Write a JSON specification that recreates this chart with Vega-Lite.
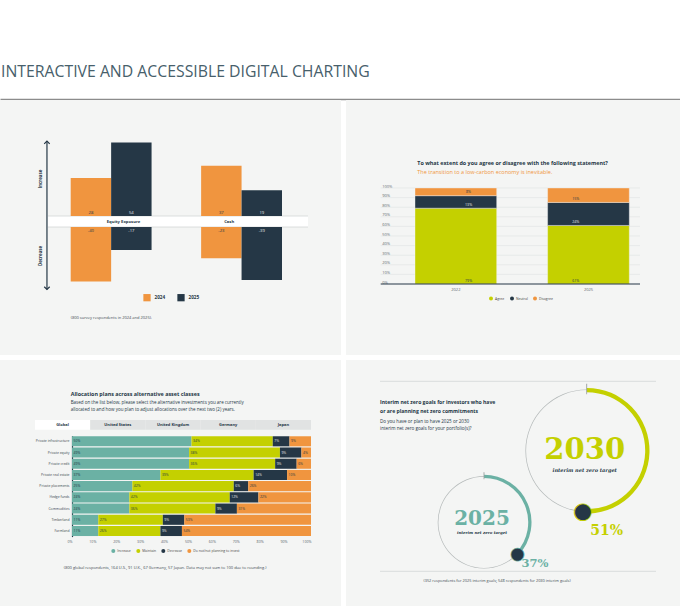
{
  "$schema": "https://vega.github.io/schema/vega-lite/v6.json",
  "background": "white",
  "padding": 0,
  "spacing": 1,
  "resolve": {"scale": {"color": "independent", "theta": "independent"}, "legend": {"color": "independent"}},
  "config": {
    "view": {"stroke": null},
    "font": "Open Sans",
    "axis": {"labelFont": "Open Sans", "titleFont": "Open Sans"},
    "legend": {"labelFont": "Open Sans"},
    "title": {"font": "Open Sans", "subtitleFont": "Open Sans"}
  },
  "vconcat": [
    {
      "width": 680,
      "height": 99,
      "data": {"values": [{"label": "INTERACTIVE AND ACCESSIBLE DIGITAL CHARTING"}]},
      "mark": {"type": "text", "align": "left", "baseline": "middle", "fontSize": 15.8, "color": "#47606b", "dx": 1},
      "encoding": {
        "x": {"datum": 0, "type": "quantitative", "scale": {"domain": [0, 1]}, "axis": {"orient": "bottom", "domain": true, "domainColor": "#8c8c8c", "domainWidth": 1.3, "ticks": false, "labels": false, "grid": false, "title": null}},
        "y": {"datum": 0.27, "type": "quantitative", "scale": {"domain": [0, 1]}, "axis": null},
        "text": {"field": "label"}
      }
    },
    {
      "resolve": {"scale": {"color": "independent", "theta": "independent"}, "legend": {"color": "independent"}},
      "vconcat": [
        {
          "resolve": {"scale": {"color": "independent"}, "legend": {"color": "independent"}},
          "hconcat": [
            {
              "width": 341,
              "height": 255,
              "view": {"fill": "#f4f5f4", "stroke": null},
              "data": {"values": [
                {"category": "Equity Exposure", "year": "2024", "increase": 28, "decrease": -40},
                {"category": "Equity Exposure", "year": "2025", "increase": 54, "decrease": -17},
                {"category": "Cash", "year": "2024", "increase": 37, "decrease": -23},
                {"category": "Cash", "year": "2025", "increase": 19, "decrease": -39}
              ]},
              "resolve": {"scale": {"x": "independent", "y": "independent"}},
              "layer": [
                {
                  "data": {"values": [{}]},
                  "mark": {"type": "rect", "fill": "white"},
                  "encoding": {
                    "x": {"datum": 0, "type": "quantitative", "scale": {"domain": [0, 1], "range": [48, 308]}, "axis": null},
                    "x2": {"datum": 1},
                    "y": {"datum": 0, "type": "quantitative", "scale": {"domain": [0, 60], "range": [116, 34.4]}, "axis": null},
                    "y2": {"datum": -8.1}
                  }
                },
                {
                  "data": {"values": [{}]},
                  "mark": {"type": "rule", "color": "#d3d7d7", "strokeWidth": 0.8},
                  "encoding": {
                    "x": {"datum": 0, "type": "quantitative", "scale": {"domain": [0, 1], "range": [48, 308]}, "axis": null},
                    "x2": {"datum": 1},
                    "y": {"datum": 0, "type": "quantitative", "scale": {"domain": [0, 60], "range": [116, 34.4]}, "axis": null}
                  }
                },
                {
                  "data": {"values": [{}]},
                  "mark": {"type": "rule", "color": "#d3d7d7", "strokeWidth": 0.8},
                  "encoding": {
                    "x": {"datum": 0, "type": "quantitative", "scale": {"domain": [0, 1], "range": [48, 308]}, "axis": null},
                    "x2": {"datum": 1},
                    "y": {"datum": -8.1, "type": "quantitative", "scale": {"domain": [0, 60], "range": [116, 34.4]}, "axis": null}
                  }
                },
                {
                  "data": {"values": [{}]},
                  "mark": {"type": "rule", "color": "#253746", "strokeWidth": 1.2},
                  "encoding": {
                    "x": {"datum": -0.004, "type": "quantitative", "scale": {"domain": [0, 1], "range": [48, 308]}, "axis": null},
                    "y": {"datum": 55, "type": "quantitative", "scale": {"domain": [0, 60], "range": [116, 34.4]}, "axis": null},
                    "y2": {"datum": -54}
                  }
                },
                {
                  "data": {"values": [{}]},
                  "mark": {"type": "point", "shape": "M-1,1L0,0L1,1", "filled": false, "stroke": "#253746", "strokeWidth": 1.2, "size": 30, "opacity": 1},
                  "encoding": {
                    "x": {"datum": -0.004, "type": "quantitative", "scale": {"domain": [0, 1], "range": [48, 308]}, "axis": null},
                    "y": {"datum": 55, "type": "quantitative", "scale": {"domain": [0, 60], "range": [116, 34.4]}, "axis": null}
                  }
                },
                {
                  "data": {"values": [{}]},
                  "mark": {"type": "point", "shape": "M-1,-1L0,0L1,-1", "filled": false, "stroke": "#253746", "strokeWidth": 1.2, "size": 30, "opacity": 1},
                  "encoding": {
                    "x": {"datum": -0.004, "type": "quantitative", "scale": {"domain": [0, 1], "range": [48, 308]}, "axis": null},
                    "y": {"datum": -54, "type": "quantitative", "scale": {"domain": [0, 60], "range": [116, 34.4]}, "axis": null}
                  }
                },
                {
                  "data": {"values": [{"label": "Increase"}]},
                  "mark": {"type": "text", "angle": 270, "fontSize": 4.4, "fontWeight": "bold", "color": "#253746", "align": "center", "baseline": "middle"},
                  "encoding": {
                    "x": {"datum": -0.027, "type": "quantitative", "scale": {"domain": [0, 1], "range": [48, 308]}, "axis": null},
                    "y": {"datum": 27.2, "type": "quantitative", "scale": {"domain": [0, 60], "range": [116, 34.4]}, "axis": null},
                    "text": {"field": "label"}
                  }
                },
                {
                  "data": {"values": [{"label": "Decrease"}]},
                  "mark": {"type": "text", "angle": 270, "fontSize": 4.4, "fontWeight": "bold", "color": "#253746", "align": "center", "baseline": "middle"},
                  "encoding": {
                    "x": {"datum": -0.027, "type": "quantitative", "scale": {"domain": [0, 1], "range": [48, 308]}, "axis": null},
                    "y": {"datum": -29.4, "type": "quantitative", "scale": {"domain": [0, 60], "range": [116, 34.4]}, "axis": null},
                    "text": {"field": "label"}
                  }
                },
                {
                  "mark": {"type": "bar"},
                  "encoding": {
                    "x": {"field": "category", "type": "nominal", "scale": {"domain": ["Equity Exposure", "Cash"], "range": [70.7, 282], "paddingInner": 0.38, "paddingOuter": 0}, "axis": null},
                    "xOffset": {"field": "year", "type": "nominal", "scale": {"domain": ["2024", "2025"], "paddingInner": 0, "paddingOuter": 0}},
                    "y": {"field": "increase", "type": "quantitative", "scale": {"domain": [0, 60], "range": [116, 34.4]}, "axis": null},
                    "color": {"field": "year", "type": "nominal", "scale": {"domain": ["2024", "2025"], "range": ["#f0953f", "#253746"]},
                      "legend": {"orient": "none", "legendX": 143, "legendY": 193.5, "direction": "horizontal", "title": null, "symbolType": "square", "symbolSize": 53, "symbolStrokeWidth": 0, "labelFontSize": 4.6, "labelFontWeight": "bold", "labelColor": "#253746", "labelOffset": 3.5, "columnPadding": 11, "padding": 0}}
                  }
                },
                {
                  "mark": {"type": "bar"},
                  "encoding": {
                    "x": {"field": "category", "type": "nominal", "scale": {"domain": ["Equity Exposure", "Cash"], "range": [70.7, 282], "paddingInner": 0.38, "paddingOuter": 0}, "axis": null},
                    "xOffset": {"field": "year", "type": "nominal", "scale": {"domain": ["2024", "2025"], "paddingInner": 0, "paddingOuter": 0}},
                    "y": {"field": "decrease", "type": "quantitative", "scale": {"domain": [-60, 0], "range": [208.6, 127]}, "axis": null},
                    "color": {"field": "year", "type": "nominal", "scale": {"domain": ["2024", "2025"], "range": ["#f0953f", "#253746"]},
                      "legend": {"orient": "none", "legendX": 143, "legendY": 193.5, "direction": "horizontal", "title": null, "symbolType": "square", "symbolSize": 53, "symbolStrokeWidth": 0, "labelFontSize": 4.6, "labelFontWeight": "bold", "labelColor": "#253746", "labelOffset": 3.5, "columnPadding": 11, "padding": 0}}
                  }
                },
                {
                  "mark": {"type": "text", "fontSize": 4.2, "baseline": "bottom", "dy": -1},
                  "encoding": {
                    "x": {"field": "category", "type": "nominal", "scale": {"domain": ["Equity Exposure", "Cash"], "range": [70.7, 282], "paddingInner": 0.38, "paddingOuter": 0}, "axis": null},
                    "xOffset": {"field": "year", "type": "nominal", "scale": {"domain": ["2024", "2025"], "paddingInner": 0, "paddingOuter": 0}},
                    "y": {"datum": 0, "type": "quantitative", "scale": {"domain": [0, 60], "range": [116, 34.4]}, "axis": null},
                    "text": {"field": "increase", "type": "nominal"},
                    "color": {"condition": {"test": "datum.year === '2025'", "value": "#e6e9ea"}, "value": "#253746"}
                  }
                },
                {
                  "mark": {"type": "text", "fontSize": 4.2, "baseline": "top", "dy": 1.5},
                  "encoding": {
                    "x": {"field": "category", "type": "nominal", "scale": {"domain": ["Equity Exposure", "Cash"], "range": [70.7, 282], "paddingInner": 0.38, "paddingOuter": 0}, "axis": null},
                    "xOffset": {"field": "year", "type": "nominal", "scale": {"domain": ["2024", "2025"], "paddingInner": 0, "paddingOuter": 0}},
                    "y": {"datum": 0, "type": "quantitative", "scale": {"domain": [-60, 0], "range": [208.6, 127]}, "axis": null},
                    "text": {"field": "decrease", "type": "nominal"},
                    "color": {"condition": {"test": "datum.year === '2025'", "value": "#e6e9ea"}, "value": "#253746"}
                  }
                },
                {
                  "transform": [{"filter": "datum.year === '2024'"}],
                  "mark": {"type": "text", "fontSize": 4.2, "fontWeight": "bold", "color": "#253746", "baseline": "middle"},
                  "encoding": {
                    "x": {"field": "category", "type": "nominal", "scale": {"domain": ["Equity Exposure", "Cash"], "range": [70.7, 282], "paddingInner": 0.38, "paddingOuter": 0}, "axis": null},
                    "y": {"datum": -4.05, "type": "quantitative", "scale": {"domain": [0, 60], "range": [116, 34.4]}, "axis": null},
                    "text": {"field": "category"}
                  }
                },
                {
                  "data": {"values": [{"note": "(800 survey respondents in 2024 and 2025)."}]},
                  "mark": {"type": "text", "fontSize": 4, "color": "#3d4a52", "align": "left", "baseline": "middle"},
                  "encoding": {
                    "x": {"datum": 0.0873, "type": "quantitative", "scale": {"domain": [0, 1], "range": [48, 308]}, "axis": null},
                    "y": {"datum": -75, "type": "quantitative", "scale": {"domain": [0, 60], "range": [116, 34.4]}, "axis": null},
                    "text": {"field": "note"}
                  }
                }
              ]
            },
            {
              "width": 334,
              "height": 255,
              "view": {"fill": "#f4f5f4", "stroke": null},
              "title": {"text": "To what extent do you agree or disagree with the following statement?", "subtitle": "The transition to a low-carbon economy is inevitable.", "anchor": "start", "frame": "group", "orient": "top", "offset": -75, "dx": 71.3, "fontSize": 5.4, "fontWeight": "bold", "color": "#253746", "subtitleColor": "#f0953f", "subtitleFontSize": 5.5, "subtitlePadding": 3.5},
              "data": {"values": [
                {"year": "2022", "response": "Agree", "share": 0.79},
                {"year": "2022", "response": "Neutral", "share": 0.13},
                {"year": "2022", "response": "Disagree", "share": 0.08},
                {"year": "2025", "response": "Agree", "share": 0.61},
                {"year": "2025", "response": "Neutral", "share": 0.24},
                {"year": "2025", "response": "Disagree", "share": 0.15}
              ]},
              "resolve": {"scale": {"x": "independent", "y": "independent"}},
              "layer": [
                {
                  "data": {"values": [{"tick": 0.1}, {"tick": 0.2}, {"tick": 0.3}, {"tick": 0.4}, {"tick": 0.5}, {"tick": 0.6}, {"tick": 0.7}, {"tick": 0.8}, {"tick": 0.9}, {"tick": 1.0}]},
                  "mark": {"type": "rule", "color": "#dfe2e2", "strokeWidth": 0.6},
                  "encoding": {
                    "x": {"datum": 0, "type": "quantitative", "scale": {"domain": [0, 1], "range": [34.7, 294]}, "axis": null},
                    "x2": {"datum": 1},
                    "y": {"field": "tick", "type": "quantitative", "scale": {"domain": [0, 1], "range": [184, 88]}, "axis": null}
                  }
                },
                {
                  "transform": [{"stack": "share", "groupby": ["year"], "as": ["s0", "s1"]}],
                  "mark": {"type": "bar", "stroke": "#f4f5f4", "strokeWidth": 0.4},
                  "encoding": {
                    "x": {"field": "year", "type": "nominal", "scale": {"domain": ["2022", "2025"], "range": [69, 283.3], "paddingInner": 0.384, "paddingOuter": 0},
                      "axis": {"orient": "bottom", "offset": -70, "domain": false, "ticks": false, "labelPadding": 2, "labelFontSize": 4, "labelColor": "#5c666c", "title": null, "labelAngle": 0}},
                    "y": {"field": "s0", "type": "quantitative", "scale": {"domain": [0, 1], "range": [184, 88]},
                      "axis": {"orient": "left", "offset": -34.7, "values": [0, 0.1, 0.2, 0.3, 0.4, 0.5, 0.6, 0.7, 0.8, 0.9, 1], "format": ".0%", "domain": false, "ticks": false, "grid": false, "labelAlign": "left", "labelBaseline": "bottom", "labelPadding": -1, "labelFontSize": 4, "labelColor": "#5c666c", "title": null}},
                    "y2": {"field": "s1"},
                    "color": {"field": "response", "type": "nominal", "scale": {"domain": ["Agree", "Neutral", "Disagree"], "range": ["#c4d000", "#253746", "#f0953f"]},
                      "legend": {"orient": "none", "legendX": 143, "legendY": 196.5, "direction": "horizontal", "title": null, "symbolType": "circle", "symbolSize": 16, "symbolStrokeWidth": 0, "labelFontSize": 3.4, "labelColor": "#444", "labelOffset": 2, "columnPadding": 5, "padding": 0}}
                  }
                },
                {
                  "data": {"values": [{}]},
                  "mark": {"type": "rule", "color": "#253746", "strokeWidth": 1.2},
                  "encoding": {
                    "x": {"datum": 0, "type": "quantitative", "scale": {"domain": [0, 1], "range": [34.7, 294]}, "axis": null},
                    "x2": {"datum": 1},
                    "y": {"datum": 0, "type": "quantitative", "scale": {"domain": [0, 1], "range": [184, 88]}, "axis": null}
                  }
                },
                {
                  "transform": [{"stack": "share", "groupby": ["year"], "as": ["s0", "s1"]}],
                  "mark": {"type": "text", "fontSize": 3.6, "baseline": "bottom", "dy": -1.5},
                  "encoding": {
                    "x": {"field": "year", "type": "nominal", "scale": {"domain": ["2022", "2025"], "range": [69, 283.3], "paddingInner": 0.384, "paddingOuter": 0}, "axis": null},
                    "y": {"field": "s0", "type": "quantitative", "scale": {"domain": [0, 1], "range": [184, 88]}, "axis": null},
                    "text": {"field": "share", "type": "quantitative", "format": ".0%"},
                    "color": {"condition": {"test": "datum.response === 'Neutral'", "value": "#e6e9ea"}, "value": "#253746"}
                  }
                }
              ]
            }
          ],
          "spacing": 5
        },
        {
          "resolve": {"scale": {"color": "independent", "theta": "independent"}, "legend": {"color": "independent"}},
          "hconcat": [
            {
              "width": 341,
              "height": 246,
              "view": {"fill": "#f4f5f4", "stroke": null},
              "title": {"text": "Allocation plans across alternative asset classes", "subtitle": ["Based on the list below, please select the alternative investments you are currently", "allocated to and how you plan to adjust allocations over the next two (2) years."], "anchor": "start", "frame": "group", "orient": "top", "offset": -51, "dx": 70.7, "fontSize": 5.4, "fontWeight": "bold", "color": "#253746", "subtitleColor": "#253746", "subtitleFontSize": 4.5, "subtitleLineHeight": 7, "subtitlePadding": 2.5},
              "data": {"values": [
                {"asset": "Private infrastructure", "plan": "Increase", "share": 0.50},
                {"asset": "Private infrastructure", "plan": "Maintain", "share": 0.34},
                {"asset": "Private infrastructure", "plan": "Decrease", "share": 0.07},
                {"asset": "Private infrastructure", "plan": "Do not/not planning to invest", "share": 0.09},
                {"asset": "Private equity", "plan": "Increase", "share": 0.49},
                {"asset": "Private equity", "plan": "Maintain", "share": 0.38},
                {"asset": "Private equity", "plan": "Decrease", "share": 0.09},
                {"asset": "Private equity", "plan": "Do not/not planning to invest", "share": 0.04},
                {"asset": "Private credit", "plan": "Increase", "share": 0.49},
                {"asset": "Private credit", "plan": "Maintain", "share": 0.36},
                {"asset": "Private credit", "plan": "Decrease", "share": 0.09},
                {"asset": "Private credit", "plan": "Do not/not planning to invest", "share": 0.06},
                {"asset": "Private real estate", "plan": "Increase", "share": 0.37},
                {"asset": "Private real estate", "plan": "Maintain", "share": 0.39},
                {"asset": "Private real estate", "plan": "Decrease", "share": 0.14},
                {"asset": "Private real estate", "plan": "Do not/not planning to invest", "share": 0.10},
                {"asset": "Private placements", "plan": "Increase", "share": 0.25},
                {"asset": "Private placements", "plan": "Maintain", "share": 0.42},
                {"asset": "Private placements", "plan": "Decrease", "share": 0.06},
                {"asset": "Private placements", "plan": "Do not/not planning to invest", "share": 0.26},
                {"asset": "Hedge funds", "plan": "Increase", "share": 0.24},
                {"asset": "Hedge funds", "plan": "Maintain", "share": 0.42},
                {"asset": "Hedge funds", "plan": "Decrease", "share": 0.12},
                {"asset": "Hedge funds", "plan": "Do not/not planning to invest", "share": 0.22},
                {"asset": "Commodities", "plan": "Increase", "share": 0.24},
                {"asset": "Commodities", "plan": "Maintain", "share": 0.36},
                {"asset": "Commodities", "plan": "Decrease", "share": 0.09},
                {"asset": "Commodities", "plan": "Do not/not planning to invest", "share": 0.31},
                {"asset": "Timberland", "plan": "Increase", "share": 0.11},
                {"asset": "Timberland", "plan": "Maintain", "share": 0.27},
                {"asset": "Timberland", "plan": "Decrease", "share": 0.09},
                {"asset": "Timberland", "plan": "Do not/not planning to invest", "share": 0.53},
                {"asset": "Farmland", "plan": "Increase", "share": 0.11},
                {"asset": "Farmland", "plan": "Maintain", "share": 0.26},
                {"asset": "Farmland", "plan": "Decrease", "share": 0.09},
                {"asset": "Farmland", "plan": "Do not/not planning to invest", "share": 0.54}
              ]},
              "resolve": {"scale": {"x": "independent", "y": "independent"}},
              "layer": [
                {
                  "data": {"values": [{"tab": "Global"}, {"tab": "United States"}, {"tab": "United Kingdom"}, {"tab": "Germany"}, {"tab": "Japan"}]},
                  "mark": {"type": "rect"},
                  "encoding": {
                    "x": {"field": "tab", "type": "nominal", "scale": {"domain": ["Global", "United States", "United Kingdom", "Germany", "Japan"], "range": [35, 311], "paddingInner": 0, "paddingOuter": 0}, "axis": null},
                    "y": {"datum": 0, "type": "quantitative", "scale": {"domain": [0, 1], "range": [60, 69.7]}, "axis": null},
                    "y2": {"datum": 1},
                    "color": {"condition": {"test": "datum.tab === 'Global'", "value": "#ffffff"}, "value": "#e1e3e3"}
                  }
                },
                {
                  "data": {"values": [{"tab": "Global"}, {"tab": "United States"}, {"tab": "United Kingdom"}, {"tab": "Germany"}, {"tab": "Japan"}]},
                  "mark": {"type": "text", "fontSize": 4, "fontWeight": "bold", "color": "#253746", "baseline": "middle"},
                  "encoding": {
                    "x": {"field": "tab", "type": "nominal", "scale": {"domain": ["Global", "United States", "United Kingdom", "Germany", "Japan"], "range": [35, 311], "paddingInner": 0, "paddingOuter": 0}, "axis": null},
                    "y": {"datum": 0.5, "type": "quantitative", "scale": {"domain": [0, 1], "range": [60, 69.7]}, "axis": null},
                    "text": {"field": "tab"}
                  }
                },
                {
                  "transform": [{"stack": "share", "groupby": ["asset"], "offset": "normalize", "as": ["x0", "x1"]}],
                  "mark": {"type": "bar"},
                  "encoding": {
                    "y": {"field": "asset", "type": "nominal", "scale": {"domain": ["Private infrastructure", "Private equity", "Private credit", "Private real estate", "Private placements", "Hedge funds", "Commodities", "Timberland", "Farmland"], "range": [75.7, 176.6], "paddingInner": 0.1, "paddingOuter": 0.05},
                      "axis": {"orient": "left", "offset": -72, "domainColor": "#253746", "domainWidth": 1.2, "ticks": false, "labelPadding": 3, "labelFontSize": 3.4, "labelColor": "#3a464e", "title": null}},
                    "x": {"field": "x0", "type": "quantitative", "scale": {"domain": [0, 1], "range": [72, 311]},
                      "axis": {"orient": "bottom", "offset": -68, "values": [0, 0.1, 0.2, 0.3, 0.4, 0.5, 0.6, 0.7, 0.8, 0.9, 1], "format": ".0%", "domain": false, "ticks": false, "grid": false, "labelAlign": "right", "labelPadding": 1.5, "labelFontSize": 3.6, "labelColor": "#5c666c", "labelFlush": false,
                        "title": "(800 global respondents, 164 U.S., 91 U.K., 67 Germany, 57 Japan. Data may not sum to 100 due to rounding.)", "titleX": 63.3, "titleY": 29, "titleAlign": "left", "titleAnchor": "start", "titleBaseline": "middle", "titleFontSize": 4, "titleFontWeight": "normal", "titleColor": "#3d4a52"}},
                    "x2": {"field": "x1"},
                    "color": {"field": "plan", "type": "nominal", "scale": {"domain": ["Increase", "Maintain", "Decrease", "Do not/not planning to invest"], "range": ["#6bb1a4", "#c4d000", "#253746", "#f0953f"]},
                      "legend": {"orient": "none", "legendX": 111.3, "legendY": 189, "direction": "horizontal", "title": null, "symbolType": "circle", "symbolSize": 16, "symbolStrokeWidth": 0, "labelFontSize": 3.4, "labelColor": "#444", "labelOffset": 2, "columnPadding": 5, "padding": 0}}
                  }
                },
                {
                  "transform": [{"stack": "share", "groupby": ["asset"], "offset": "normalize", "as": ["x0", "x1"]}],
                  "mark": {"type": "text", "fontSize": 3.4, "align": "left", "baseline": "middle", "dx": 1.5},
                  "encoding": {
                    "y": {"field": "asset", "type": "nominal", "scale": {"domain": ["Private infrastructure", "Private equity", "Private credit", "Private real estate", "Private placements", "Hedge funds", "Commodities", "Timberland", "Farmland"], "range": [75.7, 176.6], "paddingInner": 0.1, "paddingOuter": 0.05}, "axis": null},
                    "x": {"field": "x0", "type": "quantitative", "scale": {"domain": [0, 1], "range": [72, 311]}, "axis": null},
                    "text": {"field": "share", "type": "quantitative", "format": ".0%"},
                    "color": {"condition": {"test": "datum.plan === 'Decrease'", "value": "#e6e9ea"}, "value": "#253746"}
                  }
                }
              ]
            },
            {
              "width": 334,
              "height": 246,
              "view": {"fill": "#f4f5f4", "stroke": null},
              "title": {"text": ["Interim net zero goals for investors who have", "or are planning net zero commitments"], "subtitle": ["Do you have or plan to have 2025 or 2030", "interim net zero goals for your portfolio(s)?"], "anchor": "start", "frame": "group", "orient": "top", "offset": -71, "dx": 34, "fontSize": 5.1, "lineHeight": 9, "fontWeight": "bold", "color": "#253746", "subtitleColor": "#253746", "subtitleFontSize": 4.6, "subtitleLineHeight": 7.6, "subtitlePadding": 5},
              "data": {"values": [
                {"target": "2025", "share": 0.37, "caption": "interim net zero target"},
                {"target": "2030", "share": 0.51, "caption": "interim net zero target"}
              ]},
              "resolve": {"scale": {"x": "independent", "y": "independent"}},
              "layer": [
                {
                  "data": {"values": [{}]},
                  "mark": {"type": "rule", "color": "#d9dcdc", "strokeWidth": 1},
                  "encoding": {
                    "x": {"datum": 0, "type": "quantitative", "scale": {"domain": [0, 1], "range": [34, 310]}, "axis": null},
                    "x2": {"datum": 1},
                    "y": {"datum": 0, "type": "quantitative", "scale": {"domain": [0, 1], "range": [21.3, 211.3]}, "axis": null}
                  }
                },
                {
                  "data": {"values": [{}]},
                  "mark": {"type": "rule", "color": "#d9dcdc", "strokeWidth": 1},
                  "encoding": {
                    "x": {"datum": 0, "type": "quantitative", "scale": {"domain": [0, 1], "range": [34, 310]}, "axis": null},
                    "x2": {"datum": 1},
                    "y": {"datum": 1, "type": "quantitative", "scale": {"domain": [0, 1], "range": [21.3, 211.3]}, "axis": null}
                  }
                },
                {
                  "data": {"values": [{"note": "(352 respondents for 2025 interim goals; 548 respondents for 2030 interim goals)"}]},
                  "mark": {"type": "text", "fontSize": 3.9, "color": "#3d4a52", "align": "center", "baseline": "middle", "dy": 10},
                  "encoding": {
                    "x": {"datum": 0.424, "type": "quantitative", "scale": {"domain": [0, 1], "range": [34, 310]}, "axis": null},
                    "y": {"datum": 1, "type": "quantitative", "scale": {"domain": [0, 1], "range": [21.3, 211.3]}, "axis": null},
                    "text": {"field": "note"}
                  }
                },
                {
                  "transform": [{"filter": "datum.target === '2030'"}],
                  "encoding": {
                    "x": {"field": "target", "type": "nominal", "scale": {"type": "point", "domain": ["2025", "2030"], "range": [138, 240.7], "padding": 0}, "axis": null},
                    "y": {"field": "target", "type": "nominal", "scale": {"type": "point", "domain": ["2030", "2025"], "range": [90.7, 162.3], "padding": 0}, "axis": null}
                  },
                  "layer": [
                    {"mark": {"type": "arc", "theta": 0, "theta2": 6.2832, "innerRadius": 60.6, "outerRadius": 61.3, "fill": "#b5baba"}},
                    {"mark": {"type": "arc", "innerRadius": 58.5, "outerRadius": 62.8, "fill": "#c4d000"},
                      "encoding": {"theta": {"field": "share", "type": "quantitative", "scale": {"domain": [0, 1], "range": [0, 6.2832]}}}},
                    {"mark": {"type": "arc", "theta": -0.007, "theta2": 0.007, "innerRadius": 56.5, "outerRadius": 67, "fill": "#9aa0a0"}},
                    {"mark": {"type": "text", "text": "●", "font": "DejaVu Sans", "fontSize": 22, "radius": 60.6, "fill": "#253746", "stroke": "#c4d000", "strokeWidth": 0.8, "baseline": "middle", "align": "center"},
                      "encoding": {"theta": {"field": "share", "type": "quantitative", "stack": null, "scale": {"domain": [0, 1], "range": [0, 6.2832]}}}},
                    {"mark": {"type": "text", "font": "DejaVu Serif", "fontWeight": "bold", "fontSize": 29, "fill": "#c4d000", "baseline": "middle", "align": "center", "dx": -2, "dy": -1},
                      "encoding": {"text": {"field": "target"}}},
                    {"mark": {"type": "text", "font": "DejaVu Serif", "fontStyle": "italic", "fontWeight": "bold", "fontSize": 5, "fill": "#253746", "baseline": "middle", "align": "center", "dx": -2, "dy": 19},
                      "encoding": {"text": {"field": "caption"}}},
                    {"mark": {"type": "text", "font": "DejaVu Serif", "fontWeight": "bold", "fontSize": 14, "fill": "#c4d000", "baseline": "middle", "align": "center", "dx": 20, "dy": 80.6},
                      "encoding": {"text": {"field": "share", "type": "quantitative", "format": ".0%"}}}
                  ]
                },
                {
                  "transform": [{"filter": "datum.target === '2025'"}],
                  "encoding": {
                    "x": {"field": "target", "type": "nominal", "scale": {"type": "point", "domain": ["2025", "2030"], "range": [138, 240.7], "padding": 0}, "axis": null},
                    "y": {"field": "target", "type": "nominal", "scale": {"type": "point", "domain": ["2030", "2025"], "range": [90.7, 162.3], "padding": 0}, "axis": null}
                  },
                  "layer": [
                    {"mark": {"type": "arc", "theta": 0, "theta2": 6.2832, "innerRadius": 45.6, "outerRadius": 46.3, "fill": "#b5baba"}},
                    {"mark": {"type": "arc", "innerRadius": 44.2, "outerRadius": 47.5, "fill": "#6bb1a4"},
                      "encoding": {"theta": {"field": "share", "type": "quantitative", "scale": {"domain": [0, 1], "range": [0, 6.2832]}}}},
                    {"mark": {"type": "arc", "theta": -0.009, "theta2": 0.009, "innerRadius": 43, "outerRadius": 50, "fill": "#9aa0a0"}},
                    {"mark": {"type": "text", "text": "●", "font": "DejaVu Sans", "fontSize": 17, "radius": 45.8, "fill": "#253746", "stroke": "#6bb1a4", "strokeWidth": 0.6, "baseline": "middle", "align": "center"},
                      "encoding": {"theta": {"field": "share", "type": "quantitative", "stack": null, "scale": {"domain": [0, 1], "range": [0, 6.2832]}}}},
                    {"mark": {"type": "text", "font": "DejaVu Serif", "fontWeight": "bold", "fontSize": 20, "fill": "#6bb1a4", "baseline": "middle", "align": "center", "dx": -2, "dy": -3},
                      "encoding": {"text": {"field": "target"}}},
                    {"mark": {"type": "text", "font": "DejaVu Serif", "fontStyle": "italic", "fontWeight": "bold", "fontSize": 3.9, "fill": "#253746", "baseline": "middle", "align": "center", "dx": -2, "dy": 11},
                      "encoding": {"text": {"field": "caption"}}},
                    {"mark": {"type": "text", "font": "DejaVu Serif", "fontWeight": "bold", "fontSize": 11.5, "fill": "#6bb1a4", "baseline": "middle", "align": "center", "dx": 51, "dy": 41.7},
                      "encoding": {"text": {"field": "share", "type": "quantitative", "format": ".0%"}}}
                  ]
                }
              ]
            }
          ],
          "spacing": 5
        }
      ],
      "spacing": 5
    }
  ]
}
